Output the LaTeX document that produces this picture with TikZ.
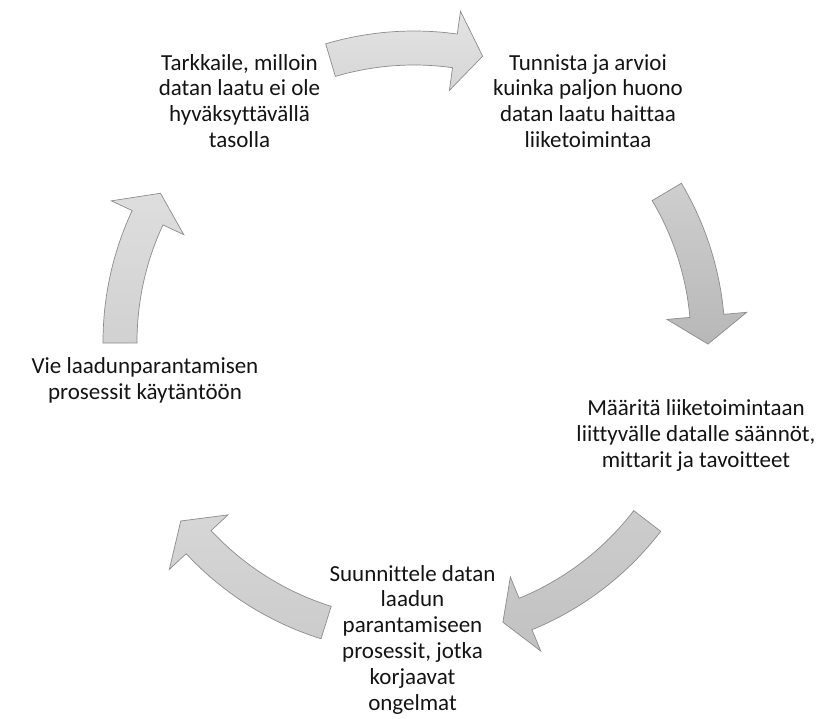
\documentclass[tikz,border=0pt]{standalone}
\usepackage{fontspec}
\setmainfont[Ligatures=NoCommon]{Carlito}
% Curved block arrow around centre C: #1 tail angle, #2 head base angle,
% #3 tip angle, #4/#5 top and bottom shading colours.
\newcommand\cycarrow[5]{%
  \path[cycarrowstyle, top color=#4, bottom color=#5]
    ([shift={(#1:311)}]C) arc[start angle=#1, end angle=#2, radius=311]
    -- ([shift={(#2:334)}]C) -- ([shift={(#3:294)}]C)
    -- ([shift={(#2:254)}]C) -- ([shift={(#2:277)}]C)
    arc[start angle=#2, end angle=#1, radius=277] -- cycle;}
\begin{document}
\begin{tikzpicture}[x=1pt, y=1pt,
  cycarrowstyle/.style={draw=black!45, line width=0.7pt, line join=miter},
  cyctext/.style={font=\fontsize{23}{25.8}\selectfont, align=center,
    inner sep=0pt, anchor=base, text=black!92}]
\useasboundingbox[fill=white] (0,0) rectangle (821,-718);
\coordinate (C) at (414,-342);

% arrows of the cycle
\cycarrow{106.5}{82}{76.5}{black!11}{black!16}
\cycarrow{30.7}{5.1}{-0.4}{black!19}{black!28}
\cycarrow{-37.5}{-67.7}{-72.4}{black!20}{black!24}
\cycarrow{252.6}{222.9}{217.5}{black!16}{black!20}
\cycarrow{180.2}{155}{149.6}{black!13}{black!18}

% steps
\node[cyctext] (n1) at (239.5,-147.5) {Tarkkaile, milloin\\datan laatu ei ole\\hyväksyttävällä\\tasolla};
\node[cyctext] (n2) at (588,-147.5) {Tunnista ja arvioi\\kuinka paljon huono\\datan laatu haittaa\\liiketoimintaa};
\node[cyctext] (n3) at (696,-467.5) {Määritä liiketoimintaan\\liittyvälle datalle säännöt,\\mittarit ja tavoitteet};
\node[cyctext] (n4) at (412.5,-710) {Suunnittele datan\\laadun\\parantamiseen\\prosessit, jotka\\korjaavat\\ongelmat};
\node[cyctext] (n5) at (145,-399) {Vie laadunparantamisen\\prosessit käytäntöön};
\end{tikzpicture}
\end{document}
